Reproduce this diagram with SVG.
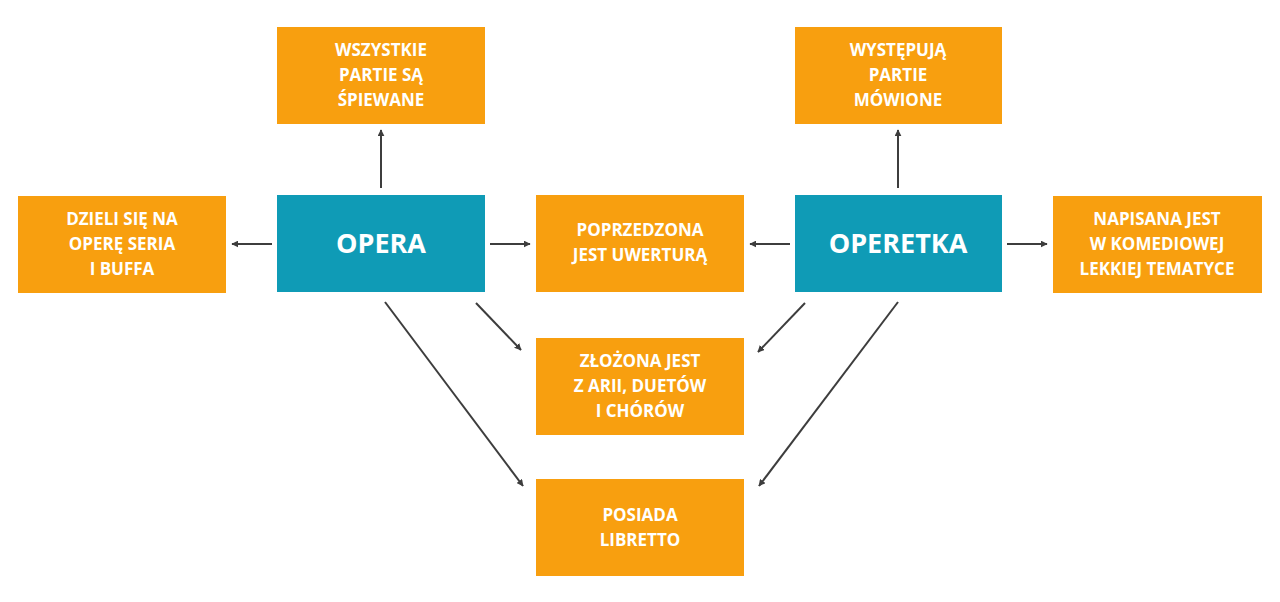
<svg xmlns="http://www.w3.org/2000/svg" width="1280" height="602" viewBox="0 0 1280 602">
<style>
.o{fill:#f89f0f}
.t{fill:#0f9bb6}
text{font-family:"Open Sans","Liberation Sans",sans-serif;font-weight:bold;fill:#fff;text-anchor:middle}
.s{font-size:17px}
.b{font-size:27px}
.c line{stroke:#3d3d3d;stroke-width:2;marker-end:url(#a)}
</style>
<defs><marker id="a" viewBox="0 0 10 10" refX="9" refY="5" markerWidth="7" markerHeight="7" markerUnits="userSpaceOnUse" orient="auto"><path d="M0,0L10,5L0,10z" fill="#3d3d3d"/></marker></defs>
<rect width="1280" height="602" fill="#fff"/>
<g id="n1"><rect class="o" x="277" y="27" width="208" height="97"/><text class="s" x="381" y="56">WSZYSTKIE</text><text class="s" x="381" y="81">PARTIE SĄ</text><text class="s" x="381" y="106">ŚPIEWANE</text></g>
<g id="n2"><rect class="o" x="795" y="27" width="207" height="97"/><text class="s" x="898" y="56">WYSTĘPUJĄ</text><text class="s" x="898" y="81">PARTIE</text><text class="s" x="898" y="106">MÓWIONE</text></g>
<g id="opera"><rect class="t" x="277" y="195" width="208" height="97"/><text class="b" x="381" y="253">OPERA</text></g>
<g id="operetka"><rect class="t" x="795" y="195" width="207" height="97"/><text class="b" x="898" y="253">OPERETKA</text></g>
<g id="n3"><rect class="o" x="18" y="196" width="208" height="97"/><text class="s" x="122" y="225">DZIELI SIĘ NA</text><text class="s" x="122" y="250">OPERĘ SERIA</text><text class="s" x="122" y="275">I BUFFA</text></g>
<g id="n4"><rect class="o" x="536" y="195" width="208" height="97"/><text class="s" x="640" y="236">POPRZEDZONA</text><text class="s" x="640" y="261">JEST UWERTURĄ</text></g>
<g id="n5"><rect class="o" x="1053" y="196" width="209" height="97"/><text class="s" x="1157" y="225">NAPISANA JEST</text><text class="s" x="1157" y="250">W KOMEDIOWEJ</text><text class="s" x="1157" y="275">LEKKIEJ TEMATYCE</text></g>
<g id="n6"><rect class="o" x="536" y="338" width="208" height="97"/><text class="s" x="640" y="367">ZŁOŻONA JEST</text><text class="s" x="640" y="392">Z ARII, DUETÓW</text><text class="s" x="640" y="417">I CHÓRÓW</text></g>
<g id="n7"><rect class="o" x="536" y="479" width="208" height="97"/><text class="s" x="640" y="521">POSIADA</text><text class="s" x="640" y="546">LIBRETTO</text></g>
<g class="c" id="connectors">
<line x1="381" y1="188" x2="381" y2="130"/>
<line x1="898" y1="188" x2="898" y2="130"/>
<line x1="272" y1="244" x2="232" y2="244"/>
<line x1="490" y1="244" x2="530" y2="244"/>
<line x1="790" y1="244" x2="750" y2="244"/>
<line x1="1007" y1="244" x2="1047" y2="244"/>
<line x1="476" y1="303" x2="521" y2="350"/>
<line x1="805" y1="303" x2="758" y2="352"/>
<line x1="385" y1="302" x2="523" y2="486"/>
<line x1="898" y1="302" x2="759" y2="486"/>
</g>
</svg>
